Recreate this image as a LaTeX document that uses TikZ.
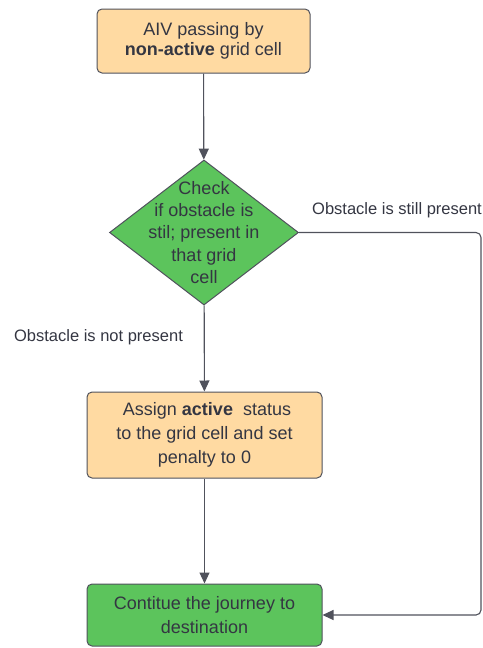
\documentclass[tikz,border=0pt]{standalone}
\usepackage{fontspec}
\setmainfont{Liberation Sans}
\usetikzlibrary{shapes.geometric,arrows.meta}
\definecolor{boxorange}{RGB}{255,218,162}
\definecolor{boxgreen}{RGB}{92,196,92}
\definecolor{edgegray}{RGB}{80,82,92}
\definecolor{txtgray}{RGB}{52,54,66}

\begin{document}
\begin{tikzpicture}[x=1pt,y=-1pt,
    procbox/.style={draw=edgegray,line width=1pt,rounded corners=5pt,align=center,text=txtgray,font=\fontsize{18}{24}\selectfont},
    flow/.style={draw=edgegray,line width=1.1pt,-{Triangle[length=11pt,width=10pt]}},
    note/.style={text=txtgray,font=\fontsize{16.5}{18}\selectfont}]
    \useasboundingbox (0,0) rectangle (482,648);
    \node[procbox,fill=boxorange,minimum width=213pt,minimum height=64pt,font=\fontsize{18}{20.5}\selectfont] (start) at (203.5,41) {AIV passing by\\\textbf{non-active} grid cell};
    \node[diamond,draw=edgegray,line width=1pt,fill=boxgreen,minimum width=189pt,minimum height=145pt,inner sep=0pt] (check) at (204,232.5) {};
    \node[text=txtgray,align=center,font=\fontsize{18}{22.3}\selectfont] (checktxt) at (check.center) {Check\\if obstacle is\\stil; present in\\that grid\\cell};
    \node[procbox,fill=boxorange,minimum width=235pt,minimum height=86pt] (assign) at (204.5,435) {\ Assign \textbf{active}\ \ status\\to the grid cell and set\\penalty to 0};
    \node[procbox,fill=boxgreen,minimum width=235pt,minimum height=62pt] (cont) at (204.5,615) {Contitue the journey to\\destination};
    \coordinate (rtop) at (481,232.5);
    \coordinate (rbot) at (481,615);
    \draw[flow] (start) -- (check);
    \draw[flow] (check) -- (assign);
    \draw[flow] (assign) -- (cont);
    \draw[flow,rounded corners=5pt] (check.east) -- (rtop) -- (rbot) -- (cont.east);
    \node[note] (stillp) at (397,210) {Obstacle is still present};
    \node[note] (notp) at (98.5,337) {Obstacle is not present};
\end{tikzpicture}
\end{document}
